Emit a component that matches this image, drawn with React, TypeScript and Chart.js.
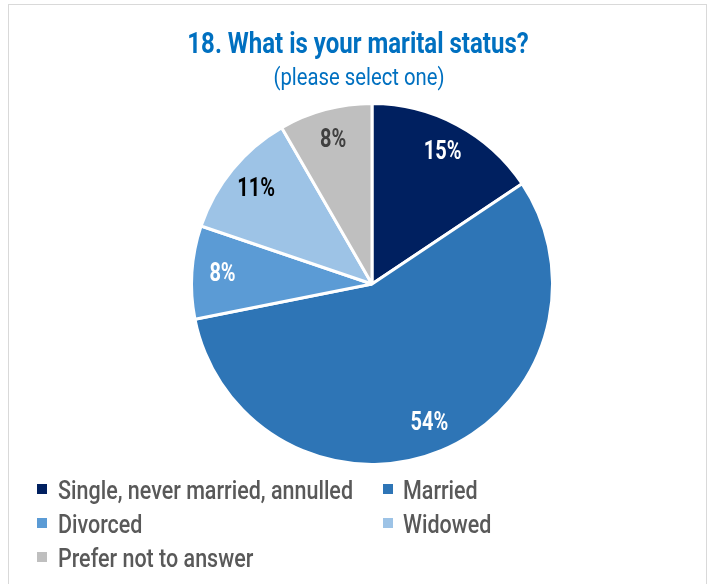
import React, { useEffect, useRef } from "react";
import { Chart, registerables } from "chart.js";

Chart.register(...registerables);

const categories = [
  "Single, never married, annulled",
  "Married",
  "Divorced",
  "Widowed",
  "Prefer not to answer",
];
const values = [15, 54, 8, 11, 8];
const sliceColors = ["#002060", "#2E75B6", "#5B9BD5", "#9DC3E6", "#BFBFBF"];
const labelColors = ["#FFFFFF", "#FFFFFF", "#FFFFFF", "#000000", "#404040"];
const titleText = "18. What is your marital status?";
const subtitleText = "(please select one)";

const FONT = "Roboto, 'Liberation Sans', sans-serif";
const SQUEEZE_TITLE = 0.8;
const SQUEEZE_SUB = 0.845;
const SQUEEZE_LEGEND = 0.86;
const SQUEEZE_LABEL = 0.8;

function squeezeText(ctx: CanvasRenderingContext2D, text: string, x: number, y: number, k: number) {
  const w = ctx.measureText(text).width;
  ctx.fillText(text, x, y, w * k);
}

const overlayPlugin = {
  id: "overlay",
  afterDatasetsDraw(chart: any) {
    const ctx: CanvasRenderingContext2D = chart.ctx;
    const meta = chart.getDatasetMeta(0);
    ctx.save();
    ctx.font = `bold 25px ${FONT}`;
    ctx.textAlign = "center";
    ctx.textBaseline = "middle";
    meta.data.forEach((arc: any, i: number) => {
      const { x, y, startAngle, endAngle, outerRadius } = arc.getProps(
        ["x", "y", "startAngle", "endAngle", "outerRadius"],
        true
      );
      const mid = (startAngle + endAngle) / 2;
      const r = outerRadius * 0.83;
      ctx.fillStyle = labelColors[i];
      squeezeText(ctx, `${values[i]}%`, x + Math.cos(mid) * r, y + Math.sin(mid) * r + 1, SQUEEZE_LABEL);
    });
    ctx.restore();
  },
  afterDraw(chart: any) {
    const ctx: CanvasRenderingContext2D = chart.ctx;
    ctx.save();
    ctx.textAlign = "center";
    ctx.textBaseline = "alphabetic";
    ctx.fillStyle = "#0070C0";
    ctx.font = `bold 30px ${FONT}`;
    squeezeText(ctx, titleText, 358, 53, SQUEEZE_TITLE);
    ctx.font = `24px ${FONT}`;
    squeezeText(ctx, subtitleText, 359, 85, SQUEEZE_SUB);

    const cols = [
      { box: 37, text: 58 },
      { box: 383, text: 403 },
    ];
    const rows = [499, 533, 567];
    ctx.textAlign = "left";
    ctx.font = `500 25px ${FONT}`;
    categories.forEach((label, i) => {
      const c = cols[i % 2];
      const base = rows[Math.floor(i / 2)];
      ctx.fillStyle = sliceColors[i];
      ctx.fillRect(c.box, base - 15, 10, 10);
      ctx.fillStyle = "#595959";
      squeezeText(ctx, label, c.text, base, SQUEEZE_LEGEND);
    });
    ctx.restore();
  },
};

export default function App() {
  const canvasRef = useRef<HTMLCanvasElement | null>(null);

  useEffect(() => {
    if (!canvasRef.current) return;
    const chart = new Chart(canvasRef.current, {
      type: "pie",
      data: {
        labels: categories,
        datasets: [
          {
            data: values,
            backgroundColor: sliceColors,
            borderColor: "#FFFFFF",
            borderWidth: 3,
          },
        ],
      },
      options: {
        responsive: false,
        animation: false,
        layout: { padding: { left: 190, right: 158, top: 102, bottom: 118 } },
        plugins: {
          legend: { display: false },
          title: { display: false },
          tooltip: { enabled: false },
        },
      },
      plugins: [overlayPlugin],
    });
    return () => chart.destroy();
  }, []);

  return (
    <div>
      <div
        style={{
          position: "fixed",
          left: 8,
          top: 4,
          width: 699,
          height: 700,
          border: "1px solid #D9D9D9",
          boxSizing: "border-box",
          background: "#FFFFFF",
        }}
      />
      <canvas
        ref={canvasRef}
        width={712}
        height={584}
        style={{ position: "fixed", left: 0, top: 0, width: 712, height: 584, display: "block" }}
      />
    </div>
  );
}
